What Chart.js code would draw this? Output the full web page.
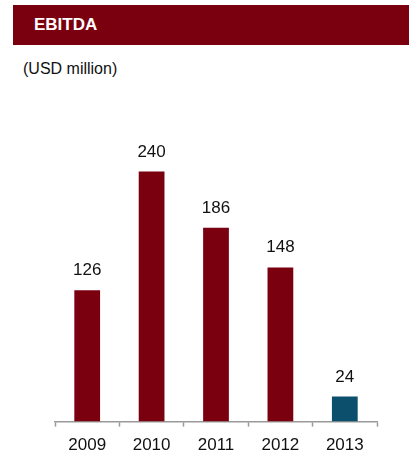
<!DOCTYPE html>
<html>
<head>
<meta charset="utf-8">
<script src="https://cdn.jsdelivr.net/npm/chart.js@4"></script>
<style>
  body { margin: 0; background: #fff; font-family: "Liberation Sans", Arial, sans-serif; }
  #wrap { position: relative; width: 409px; height: 452px; overflow: hidden; }
  #header {
    position: absolute; left: 13px; top: 5px; width: 396px; height: 40px;
    background: #7a0010; color: #fff; font-weight: bold; font-size: 17px;
    line-height: 40px; padding-left: 21px; box-sizing: border-box;
  }
  #unit { position: absolute; left: 23px; top: 60px; font-size: 16px; color: #111; }
  #chartBox { position: absolute; left: 0; top: 0; width: 409px; height: 469px; }
</style>
</head>
<body>
<div id="wrap">
  <div id="header">EBITDA</div>
  <div id="unit">(USD million)</div>
  <div id="chartBox"><canvas id="ebitdaChart"></canvas></div>
</div>
<script>
// Data
const years = ['2009', '2010', '2011', '2012', '2013'];
const ebitda = [126, 240, 186, 148, 24];
const barColors = ['#7a0010', '#7a0010', '#7a0010', '#7a0010', '#0b4f6c'];

// Value labels above bars
const valueLabels = {
    id: 'valueLabels',
    afterDatasetsDraw(chart) {
        const ctx = chart.ctx;
        const meta = chart.getDatasetMeta(0);
        ctx.save();
        ctx.font = '17px "Liberation Sans", Arial, sans-serif';
        ctx.fillStyle = '#111';
        ctx.textAlign = 'center';
        ctx.textBaseline = 'alphabetic';
        meta.data.forEach((bar, i) => {
            ctx.fillText(chart.data.datasets[0].data[i], bar.x, bar.y - 15);
        });
        ctx.restore();
    }
};

const ctx = document.getElementById('ebitdaChart').getContext('2d');
new Chart(ctx, {
    type: 'bar',
    data: {
        labels: years,
        datasets: [{
            data: ebitda,
            backgroundColor: barColors,
            barPercentage: 0.8,
            categoryPercentage: 0.5
        }]
    },
    options: {
        responsive: true,
        maintainAspectRatio: false,
        animation: false,
        layout: { padding: { left: 55, right: 32, top: 109, bottom: 4 } },
        plugins: {
            legend: { display: false },
            tooltip: { enabled: false }
        },
        scales: {
            x: {
                grid: {
                    display: true,
                    drawOnChartArea: false,
                    drawTicks: true,
                    tickLength: 5,
                    tickWidth: 1.5,
                    tickColor: '#999',
                    offset: true
                },
                border: { color: '#999', width: 1.5 },
                ticks: {
                    color: '#111',
                    padding: 9,
                    font: { size: 17, family: '"Liberation Sans", Arial, sans-serif' }
                }
            },
            y: {
                display: false,
                min: 0,
                max: 300
            }
        }
    },
    plugins: [valueLabels]
});
</script>
</body>
</html>
